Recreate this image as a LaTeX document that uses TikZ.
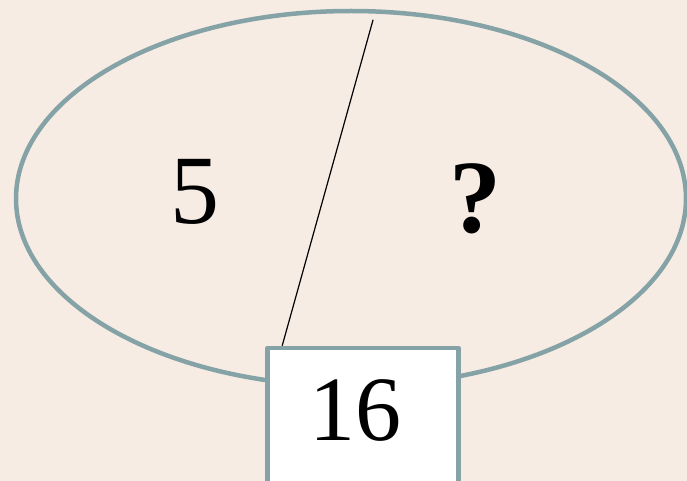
\documentclass[tikz,border=0pt]{standalone}
\usepackage{fontspec}
\setmainfont{Liberation Serif}
\definecolor{paper}{HTML}{F6ECE4}
\definecolor{rim}{HTML}{85A3A6}
\begin{document}
\begin{tikzpicture}[x=1pt, y=1pt, line join=round, line cap=round,
	rimline/.style={draw=rim, line width=4.5pt},
	numbox/.style={rimline, fill=white, rectangle, minimum width=191pt, minimum height=160pt, anchor=north, inner sep=0pt},
	big/.style={font=\fontsize{98}{98}\selectfont}]
			\def\picw{687} \def\pich{481}
			\fill[paper] (0,0) rectangle (\picw,-\pich);
			\useasboundingbox (0,0) rectangle (\picw,-\pich);
			\clip (0,0) rectangle (\picw,-\pich);
			\draw[rimline] (351,-198.6) ellipse [x radius=335, y radius=187.6];
			\node[numbox] (box) at (363,-345.5) {};
			\node[big] (five) at (195,-192) {5};
			\node[font=\fontsize{104}{104}\selectfont\bfseries] (ask) at (475,-199) {?};
			\node[font=\fontsize{92}{92}\selectfont] (sixteen) at (355,-410) {16};
			\coordinate (top) at (373,-20);
			\draw[line width=1.2pt] (top) -- ([xshift=17pt]box.north west);
		\end{tikzpicture}
\end{document}
